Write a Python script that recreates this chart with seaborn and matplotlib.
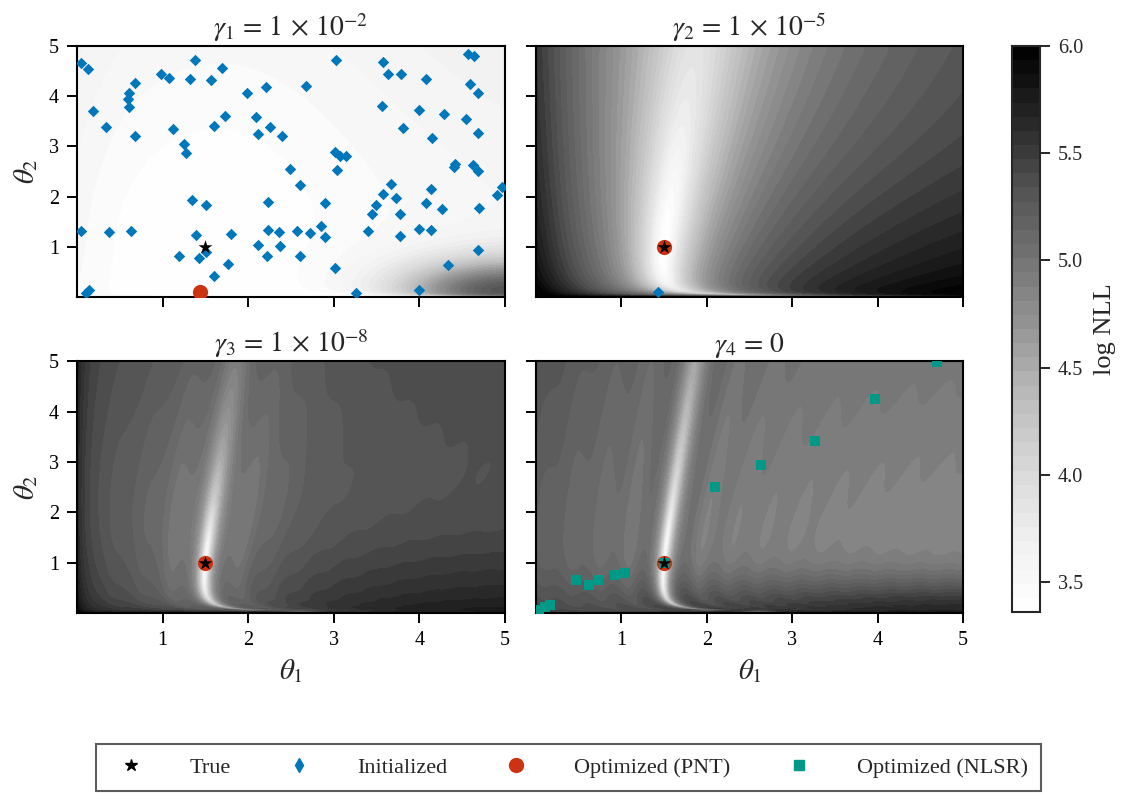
import numpy as np
import matplotlib
matplotlib.use("Agg")
import matplotlib.pyplot as plt
from matplotlib.lines import Line2D
import seaborn as sns

# ---------------------------------------------------------------- data
panel_titles = [r"$\gamma_1 \,=\, 1 \,\times\, 10^{-2}$",
                r"$\gamma_2 \,=\, 1 \,\times\, 10^{-5}$",
                r"$\gamma_3 \,=\, 1 \,\times\, 10^{-8}$",
                r"$\gamma_4 \,=\, 0$"]

theta_true = (1.5, 1.0)

# initial guesses (shown for gamma_1)
init_theta1 = [0.05, 0.13, 1.38, 1.70, 0.98, 1.07, 1.32, 1.57, 0.68, 0.61,
               0.60, 0.61, 0.19, 0.34, 0.68, 1.12, 1.25, 1.27, 1.60, 1.73,
               1.99, 2.21, 2.67, 3.03, 3.57, 3.63, 3.78, 4.08, 4.57, 4.64,
               4.59, 4.69, 3.56, 3.99, 4.29, 4.55, 3.81, 4.15, 4.69, 2.09,
               2.26, 2.12, 2.40, 3.02, 3.07, 3.14, 3.04, 2.49, 2.60, 4.42,
               4.41, 4.63, 4.68, 3.67, 3.57, 3.73, 4.13, 4.97, 4.91, 3.49,
               3.45, 3.77, 4.08, 4.26, 4.70, 2.90, 2.23, 1.34, 1.51, 0.05,
               0.38, 0.63, 1.39, 1.80, 2.23, 2.36, 2.57, 2.72, 2.85, 2.90,
               3.40, 3.77, 4.00, 4.13, 2.11, 2.37, 2.22, 2.61, 1.19, 1.42,
               1.51, 1.76, 1.60, 4.68, 4.34, 3.02, 0.14, 0.11, 3.26, 3.99]
init_theta2 = [4.66, 4.55, 4.73, 4.56, 4.45, 4.37, 4.34, 4.32, 4.27, 4.07,
               3.94, 3.78, 3.70, 3.39, 3.20, 3.34, 3.05, 2.86, 3.40, 3.61,
               4.07, 4.18, 4.21, 4.73, 4.68, 4.45, 4.45, 4.34, 4.84, 4.80,
               4.25, 4.07, 3.80, 3.73, 3.64, 3.54, 3.36, 3.16, 3.26, 3.59,
               3.38, 3.25, 3.21, 2.89, 2.81, 2.80, 2.53, 2.54, 2.23, 2.64,
               2.58, 2.63, 2.51, 2.26, 2.06, 1.97, 2.16, 2.20, 2.03, 1.84,
               1.66, 1.65, 1.87, 1.76, 1.77, 1.87, 1.89, 1.94, 1.83, 1.31,
               1.30, 1.32, 1.23, 1.25, 1.33, 1.30, 1.32, 1.27, 1.42, 1.19,
               1.31, 1.21, 1.36, 1.34, 1.03, 1.01, 0.81, 0.81, 0.81, 0.78,
               0.89, 0.66, 0.41, 0.93, 0.64, 0.58, 0.13, 0.07, 0.07, 0.13]

# a single starting point for gamma_2
start_theta1 = [1.43]
start_theta2 = [0.10]

# PNT optimum for each gamma
pnt_theta1 = [1.44, 1.50, 1.50, 1.50]
pnt_theta2 = [0.10, 1.00, 1.00, 1.00]

# NLSR iterates (gamma_4 panel)
nlsr_theta1 = [0.03, 0.11, 0.17, 0.47, 0.62, 0.73, 0.92, 1.04, 1.50, 2.10,
               2.64, 3.27, 3.97, 4.70]
nlsr_theta2 = [0.05, 0.11, 0.16, 0.66, 0.55, 0.66, 0.76, 0.79, 1.00, 2.51,
               2.94, 3.42, 4.25, 4.98]

# likelihood-surface settings, one entry per gamma
window_tau = [0.5, 0.7, 1.2, np.inf]     # decay of the time weights
window_floor = [0.0, 0.0, 0.02, 0.0]     # constant part of the time weights
lvl_base = [3.08, 4.92, 5.26, 4.80]      # log10 level far from the valley
lvl_theta1 = [0.04, 0.09, 0.0, 0.0]      # linear trend in theta_1
lvl_theta2 = [-0.15, 0.35, 0.20, 0.0]    # trend in log(1/theta_2)
lvl_left = [0.0, 0.60, 0.30, 0.40]       # extra level near theta_1 = 0
left_len = [0.6, 1.3, 0.12, 1.5]
lvl_corner = [2.45, 0.20, 0.20, 0.80]    # extra level at the (5, 0) corner
corner_w1 = [1.6, 3.0, 3.0, 4.0]
corner_w2 = [0.85, 2.5, 1.5, 0.70]
valley_up = [0.16, 0.007, 0.10, 0.093]
valley_down = [0.0, 0.0018, 0.010, 0.02]
nll_floor = 2290.0

cbar_ticks = [3.5, 4.0, 4.5, 5.0, 5.5, 6.0]
zmin, zmax = 3.36, 6.0

# ------------------------------------------------------ model surface
t = np.linspace(0.0, 20.0, 320)
theta1_grid = np.linspace(0.005, 5.0, 180)
theta2_grid = np.linspace(0.005, 5.0, 180)
T1, T2 = np.meshgrid(theta1_grid, theta2_grid)


def frequency(a, b):
    return a * b / (b + 0.03) / (1.0 + 0.072 * b)


omega_true = frequency(*theta_true)
y_obs = np.sin(omega_true * t)
omega = frequency(T1, T2)


def misfit(tau, rho):
    """Normalised weighted misfit between the observed and model signals."""
    w = np.exp(-t / tau) + rho
    w = w / w.sum()
    d = np.empty_like(omega)
    for i in range(omega.shape[0]):
        m = np.sin(omega[i][:, None] * t[None, :])
        num = ((y_obs[None, :] - m) ** 2) @ w
        den = (y_obs ** 2) @ w + (m ** 2) @ w
        d[i] = num / den
    return d


def log_nll(k):
    d = misfit(window_tau[k], window_floor[k])
    q = np.log10(5.0 / (T2 + 0.08))
    level = (lvl_base[k] + lvl_theta1[k] * T1 + lvl_theta2[k] * q
             + lvl_left[k] * np.exp(-T1 / left_len[k])
             + lvl_corner[k] * np.exp(-((5.0 - T1) / corner_w1[k]) ** 2
                                      - (T2 / corner_w2[k]) ** 2))
    lt2 = np.log(T2)
    excess = (valley_up[k] * np.clip(lt2, 0, None) ** 3
              + valley_down[k] * np.clip(lt2, None, 0) ** 2)
    z = np.log10(nll_floor + 10.0 ** level * (d + excess))
    return np.clip(z, zmin, zmax)


# ---------------------------------------------------------------- style
sns.set_theme(style="ticks")
plt.rcParams["font.family"] = ["Liberation Serif", "DejaVu Serif"]
plt.rcParams["mathtext.fontset"] = "stix"

c_true = "black"
c_init = "#0077BB"
c_pnt = "#CC3311"
c_nlsr = "#009988"

fig = plt.figure(figsize=(11.3, 7.94), dpi=100)
axes_pos = [[0.0681, 0.626, 0.3788, 0.316], [0.4743, 0.626, 0.378, 0.316],
            [0.0681, 0.228, 0.3788, 0.317], [0.4743, 0.228, 0.378, 0.317]]
levels = np.linspace(zmin, zmax, 41)

cs = None
for k in range(4):
    ax = fig.add_axes(axes_pos[k])
    z = log_nll(k)
    cs = ax.contourf(T1, T2, z, levels=levels, cmap="Greys",
                     vmin=zmin, vmax=zmax)
    if k == 0:
        sns.scatterplot(x=init_theta1, y=init_theta2, ax=ax, marker="D",
                        s=34, color=c_init, linewidth=0, zorder=3, legend=False)
    elif k == 1:
        sns.scatterplot(x=start_theta1, y=start_theta2, ax=ax, marker="D",
                        s=34, color=c_init, linewidth=0, zorder=3, legend=False)
    sns.scatterplot(x=[pnt_theta1[k]], y=[pnt_theta2[k]], ax=ax, marker="o",
                    s=120, color=c_pnt, linewidth=0, zorder=4, legend=False)
    if k == 3:
        sns.scatterplot(x=nlsr_theta1, y=nlsr_theta2, ax=ax, marker="s",
                        s=52, color=c_nlsr, linewidth=0, zorder=5, legend=False)
    sns.scatterplot(x=[theta_true[0]], y=[theta_true[1]], ax=ax, marker="*",
                    s=110, color=c_true, linewidth=0, zorder=6, legend=False)

    ax.set_xlim(0, 5)
    ax.set_ylim(0, 5)
    ax.set_xticks([1, 2, 3, 4, 5])
    ax.set_yticks([1, 2, 3, 4, 5])
    ax.tick_params(direction="out", length=7, width=1.4, labelsize=14.5,
                   colors="black", pad=6)
    for sp in ax.spines.values():
        sp.set_linewidth(1.5)
        sp.set_color("black")
        sp.set_visible(True)
    ax.set_title(panel_titles[k], fontsize=20, pad=7)
    if k < 2:
        ax.set_xticklabels([])
    else:
        ax.set_xlabel(r"$\theta_1$", fontsize=21, labelpad=5)
    if k % 2 == 1:
        ax.set_yticklabels([])
    else:
        ax.set_ylabel(r"$\theta_2$", fontsize=21, labelpad=6)

cax = fig.add_axes([0.8956, 0.2292, 0.0248, 0.7129])
cb = fig.colorbar(cs, cax=cax, ticks=cbar_ticks)
cb.outline.set_linewidth(1.5)
cb.ax.tick_params(direction="out", length=7, width=1.4, labelsize=14.5, pad=6)
cb.ax.set_yticklabels([f"{v:.1f}" for v in cbar_ticks])
cb.set_label("log NLL", fontsize=19, labelpad=8)

handles = [
    Line2D([], [], linestyle="none", marker="*", markersize=9, color=c_true),
    Line2D([], [], linestyle="none", marker="d", markersize=7, color=c_init),
    Line2D([], [], linestyle="none", marker="o", markersize=10, color=c_pnt),
    Line2D([], [], linestyle="none", marker="s", markersize=7, color=c_nlsr),
]
labels = ["True", "Initialized", "Optimized (PNT)", "Optimized (NLSR)"]
leg = fig.legend(handles, labels, loc="center", bbox_to_anchor=(0.503, 0.033),
                 ncol=4, frameon=True, fancybox=False, fontsize=16,
                 handletextpad=1.6, columnspacing=2.1, borderpad=0.6)
leg.get_frame().set_edgecolor("#333333")
leg.get_frame().set_linewidth(1.5)

fig.savefig("out.png", dpi=100)
